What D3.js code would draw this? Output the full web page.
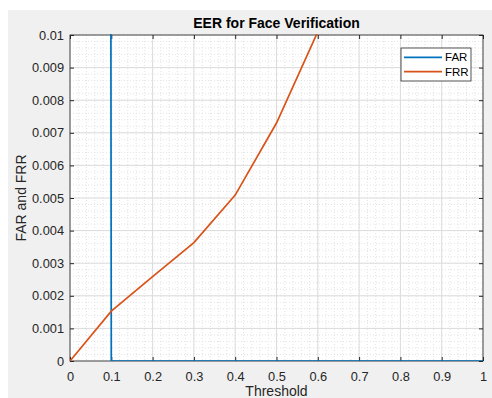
<!DOCTYPE html>
<html>
<head>
<meta charset="utf-8">
<script src="https://cdn.jsdelivr.net/npm/d3@7"></script>
<style>
  body { margin: 0; background: #fff; }
  svg { display: block; font-family: "Liberation Sans", Arial, sans-serif; }
</style>
</head>
<body>
<script>
// thresholds and rates
var thresholds = [0, 0.1, 0.2, 0.3, 0.4, 0.5, 0.6, 0.7, 0.8, 0.9, 1];
var farValues = [1, 0, 0, 0, 0, 0, 0, 0, 0, 0, 0];
var frrValues = [0, 0.00153, 0.00259, 0.00363, 0.00509, 0.0073, 0.0101, 0.0135, 0.018, 0.025, 0.035];
var xTicks = [0, 0.1, 0.2, 0.3, 0.4, 0.5, 0.6, 0.7, 0.8, 0.9, 1];
var yTicks = [0, 0.001, 0.002, 0.003, 0.004, 0.005, 0.006, 0.007, 0.008, 0.009, 0.01];
var seriesNames = ["FAR", "FRR"];
var seriesColors = ["#0072bd", "#d95319"];

var width = 492, height = 398;
var margin = { top: 35, right: 9, bottom: 37, left: 70 };
var w = width - margin.left - margin.right;
var h = height - margin.top - margin.bottom;

var svg = d3.select("body").append("svg")
  .attr("width", width)
  .attr("height", height);

svg.append("rect")
  .attr("x", 8).attr("y", 10)
  .attr("width", width - 8).attr("height", height - 10)
  .attr("fill", "#f0f0f0");

var x = d3.scaleLinear().domain([0, 1]).range([0, w]);
var y = d3.scaleLinear().domain([0, 0.01]).range([h, 0]);

var g = svg.append("g")
  .attr("transform", "translate(" + margin.left + "," + margin.top + ")");

g.append("rect").attr("width", w).attr("height", h).attr("fill", "#fff");

// minor grid
var xMinor = d3.range(0, 51).map(function (i) { return i / 50; });
var yMinor = d3.range(0, 51).map(function (i) { return i * 0.0002; });
g.append("g").selectAll("line").data(xMinor).enter().append("line")
  .attr("x1", function (d) { return x(d); }).attr("x2", function (d) { return x(d); })
  .attr("y1", 0).attr("y2", h)
  .attr("stroke", "#e3e3e3").attr("stroke-dasharray", "1,2");
g.append("g").selectAll("line").data(yMinor).enter().append("line")
  .attr("y1", function (d) { return y(d); }).attr("y2", function (d) { return y(d); })
  .attr("x1", 0).attr("x2", w)
  .attr("stroke", "#e3e3e3").attr("stroke-dasharray", "1,2");

// major grid
g.append("g").selectAll("line").data(xTicks).enter().append("line")
  .attr("x1", function (d) { return x(d); }).attr("x2", function (d) { return x(d); })
  .attr("y1", 0).attr("y2", h)
  .attr("stroke", "#dcdcdc");
g.append("g").selectAll("line").data(yTicks).enter().append("line")
  .attr("y1", function (d) { return y(d); }).attr("y2", function (d) { return y(d); })
  .attr("x1", 0).attr("x2", w)
  .attr("stroke", "#dcdcdc");

// axes
function styleAxis(sel) {
  sel.select(".domain").remove();
  sel.selectAll(".tick line").attr("stroke", "#262626");
  sel.selectAll(".tick text")
    .attr("fill", "#262626")
    .style("font-size", "12.8px")
    .style("font-family", "Liberation Sans, Arial, sans-serif");
}

g.append("g")
  .attr("transform", "translate(0," + h + ")")
  .call(d3.axisBottom(x).tickValues(xTicks).tickSizeInner(-4).tickSizeOuter(0).tickPadding(11)
    .tickFormat(function (d) { return d3.format("~g")(d); }))
  .call(styleAxis);
g.append("g")
  .call(d3.axisTop(x).tickValues(xTicks).tickSizeInner(-4).tickSizeOuter(0).tickFormat(""))
  .call(styleAxis);
g.append("g")
  .call(d3.axisLeft(y).tickValues(yTicks).tickSizeInner(-4).tickSizeOuter(0).tickPadding(6)
    .tickFormat(function (d) { return d3.format("~g")(+d.toFixed(3)); }))
  .call(styleAxis);
g.append("g")
  .attr("transform", "translate(" + w + ",0)")
  .call(d3.axisRight(y).tickValues(yTicks).tickSizeInner(-4).tickSizeOuter(0).tickFormat(""))
  .call(styleAxis);

g.append("rect")
  .attr("width", w).attr("height", h)
  .attr("fill", "none").attr("stroke", "#262626").attr("stroke-width", 0.8);

// lines
g.append("clipPath").attr("id", "clip")
  .append("rect").attr("width", w).attr("height", h + 1).attr("y", -1);

var line = d3.line()
  .x(function (d) { return x(d[0]); })
  .y(function (d) { return y(d[1]); });

var series = [farValues, frrValues];
series.forEach(function (vals, i) {
  g.append("path")
    .datum(thresholds.map(function (t, j) { return [t, vals[j]]; }))
    .attr("clip-path", "url(#clip)")
    .attr("fill", "none")
    .attr("stroke", seriesColors[i])
    .attr("stroke-width", 1.7)
    .attr("d", line);
});

// labels
svg.append("text")
  .attr("x", margin.left + w / 2).attr("y", 28)
  .attr("text-anchor", "middle")
  .attr("fill", "#000")
  .style("font-size", "14px").style("font-weight", "bold")
  .text("EER for Face Verification");

svg.append("text")
  .attr("x", margin.left + w / 2).attr("y", 396)
  .attr("text-anchor", "middle")
  .attr("fill", "#262626")
  .style("font-size", "14px")
  .text("Threshold");

svg.append("text")
  .attr("transform", "translate(26," + (margin.top + h / 2) + ") rotate(-90)")
  .attr("text-anchor", "middle")
  .attr("fill", "#262626")
  .style("font-size", "14px")
  .text("FAR and FRR");

// legend
var legend = svg.append("g").attr("transform", "translate(401,48)");
legend.append("rect")
  .attr("width", 70).attr("height", 33)
  .attr("fill", "#fff").attr("stroke", "#262626").attr("stroke-width", 0.8);
seriesNames.forEach(function (name, i) {
  var ly = 9.3 + i * 14.4;
  legend.append("line")
    .attr("x1", 3).attr("x2", 41).attr("y1", ly).attr("y2", ly)
    .attr("stroke", seriesColors[i]).attr("stroke-width", 1.7);
  legend.append("text")
    .attr("x", 44).attr("y", ly + 4)
    .attr("fill", "#000")
    .style("font-size", "11.5px")
    .text(name);
});
</script>
</body>
</html>
